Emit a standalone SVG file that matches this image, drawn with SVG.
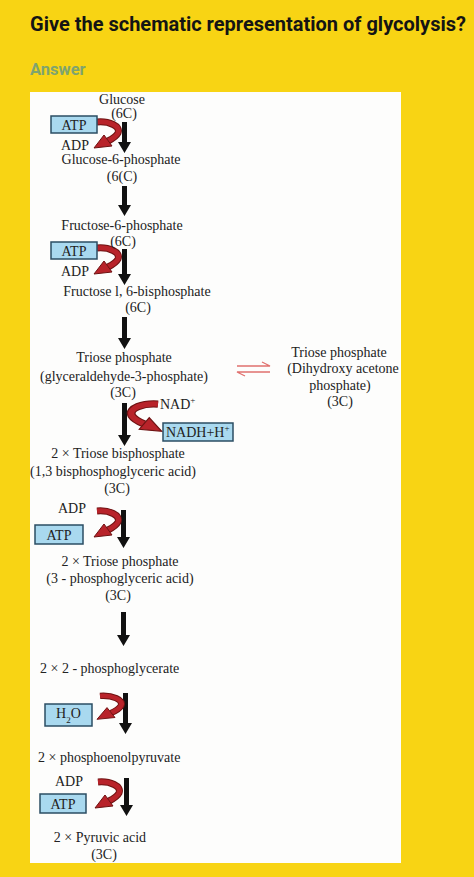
<svg xmlns="http://www.w3.org/2000/svg" width="474" height="877" viewBox="0 0 474 877">
<style>
.t{font-family:"Liberation Serif","Times New Roman",serif;font-size:14px;fill:#222}
.c{text-anchor:middle}
.box{fill:#a9d9ef;stroke:#2b4d63;stroke-width:1.5}
.bk{fill:#111}
.rd{fill:none;stroke:#b8232a;stroke-width:5;stroke-linecap:butt}
.rdo{fill:none;stroke:#6e1212;stroke-width:7}
.rh{fill:#b8232a;stroke:#6e1212;stroke-width:1}
.eq{fill:none;stroke:#e0706e;stroke-width:1.3}
</style>
<defs>
<g id="redArrow">
<path class="rdo" d="M0,1 C12,0 24,5 21,12 C19,16 15,18 11,20"/>
<path class="rd" d="M0,1 C12,0 24,5 21,12 C19,16 15,18 11,20"/>
<polygon class="rh" points="-3,27 7,14 15,25"/>
</g>
</defs>
<rect width="474" height="877" fill="#f8d414"/>
<text x="30" y="31" font-family="Roboto,'Liberation Sans',sans-serif" font-weight="bold" font-size="20" fill="#141414">Give the schematic representation of glycolysis?</text>
<text x="30" y="75" font-family="Roboto,'Liberation Sans',sans-serif" font-weight="bold" font-size="16.5" fill="#7fa46f">Answer</text>
<rect x="30" y="92" width="371" height="771" fill="#fdfdfc"/>

<g id="connectors">
<path class="bk" d="M122,122 h5 v20 h4 l-6.5,11 l-6.5,-11 h4 z"/>
<path class="bk" d="M122,186 h5 v19 h4 l-6.5,11 l-6.5,-11 h4 z"/>
<path class="bk" d="M122,249 h5 v25 h4 l-6.5,11 l-6.5,-11 h4 z"/>
<path class="bk" d="M122,317 h5 v21 h4 l-6.5,11 l-6.5,-11 h4 z"/>
<path class="bk" d="M122,403 h5 v32 h4 l-6.5,11 l-6.5,-11 h4 z"/>
<path class="bk" d="M121,510 h5 v27 h4 l-6.5,11 l-6.5,-11 h4 z"/>
<path class="bk" d="M121,612 h5 v23 h4 l-6.5,11 l-6.5,-11 h4 z"/>
<path class="bk" d="M123,693 h5 v30 h4 l-6.5,11 l-6.5,-11 h4 z"/>
<path class="bk" d="M124,778 h5 v27 h4 l-6.5,11 l-6.5,-11 h4 z"/>
<use href="#redArrow" transform="translate(97,121)"/>
<use href="#redArrow" transform="translate(97,247)"/>
<use href="#redArrow" transform="translate(158,403) scale(-1.25,1.05)"/>
<use href="#redArrow" transform="translate(97,510)"/>
<use href="#redArrow" transform="translate(100,695) scale(1,0.9)"/>
<use href="#redArrow" transform="translate(98,781)"/>
<path class="eq" d="M237,366 H270 L262,362"/>
<path class="eq" d="M270,372 H237 L245,376"/>
</g>

<g id="glucose"><text class="t c" x="122" y="104">Glucose</text><text class="t c" x="124" y="118">(6C)</text></g>
<g id="atp1"><rect class="box" x="51" y="116" width="46" height="17"/><text class="t c" x="74" y="129.5">ATP</text></g>
<g id="adp1"><text class="t" x="61" y="150">ADP</text></g>
<g id="g6p"><text class="t c" x="121" y="164">Glucose-6-phosphate</text><text class="t c" x="122" y="181">(6(C)</text></g>
<g id="f6p"><text class="t c" x="122" y="230">Fructose-6-phosphate</text><text class="t c" x="123" y="246">(6C)</text></g>
<g id="atp2"><rect class="box" x="51" y="242" width="46" height="17"/><text class="t c" x="74" y="255.5">ATP</text></g>
<g id="adp2"><text class="t" x="61" y="276">ADP</text></g>
<g id="f16bp"><text class="t c" x="137" y="296">Fructose l, 6-bisphosphate</text><text class="t c" x="138" y="312">(6C)</text></g>
<g id="g3p"><text class="t c" x="124" y="362">Triose phosphate</text><text class="t c" x="124" y="381">(glyceraldehyde-3-phosphate)</text><text class="t c" x="123" y="397">(3C)</text></g>
<g id="dhap"><text class="t c" x="339" y="357">Triose phosphate</text><text class="t c" x="343" y="373">(Dihydroxy acetone</text><text class="t c" x="340" y="390">phosphate)</text><text class="t c" x="340" y="406">(3C)</text></g>
<g id="nad"><text class="t" x="160" y="409">NAD<tspan font-size="9" dy="-6">+</tspan></text></g>
<g id="nadh"><rect class="box" x="163" y="423" width="70" height="18"/><text class="t" x="166" y="437">NADH+H<tspan font-size="9" dy="-6">+</tspan></text></g>
<g id="bpg"><text class="t c" x="118" y="458">2 × Triose bisphosphate</text><text class="t c" x="113" y="476">(1,3 bisphosphoglyceric acid)</text><text class="t c" x="117" y="493">(3C)</text></g>
<g id="adp3"><text class="t" x="58" y="513">ADP</text></g>
<g id="atp3"><rect class="box" x="35" y="525" width="48" height="19"/><text class="t c" x="59" y="539.5">ATP</text></g>
<g id="pga3"><text class="t c" x="120" y="566">2 × Triose phosphate</text><text class="t c" x="120" y="583">(3 - phosphoglyceric acid)</text><text class="t c" x="118" y="600">(3C)</text></g>
<g id="pga2"><text class="t" x="40" y="673">2 × 2 - phosphoglycerate</text></g>
<g id="h2o"><rect class="box" x="45" y="704" width="47" height="22"/><text class="t" x="56" y="718">H<tspan font-size="9" dy="5">2</tspan><tspan dy="-5">O</tspan></text></g>
<g id="pep"><text class="t" x="38" y="762">2 × phosphoenolpyruvate</text></g>
<g id="adp4"><text class="t" x="55" y="786">ADP</text></g>
<g id="atp4"><rect class="box" x="40" y="794" width="46" height="19"/><text class="t c" x="63" y="808.5">ATP</text></g>
<g id="pyruvate"><text class="t c" x="100" y="842">2 × Pyruvic acid</text><text class="t c" x="104" y="859">(3C)</text></g>
</svg>
